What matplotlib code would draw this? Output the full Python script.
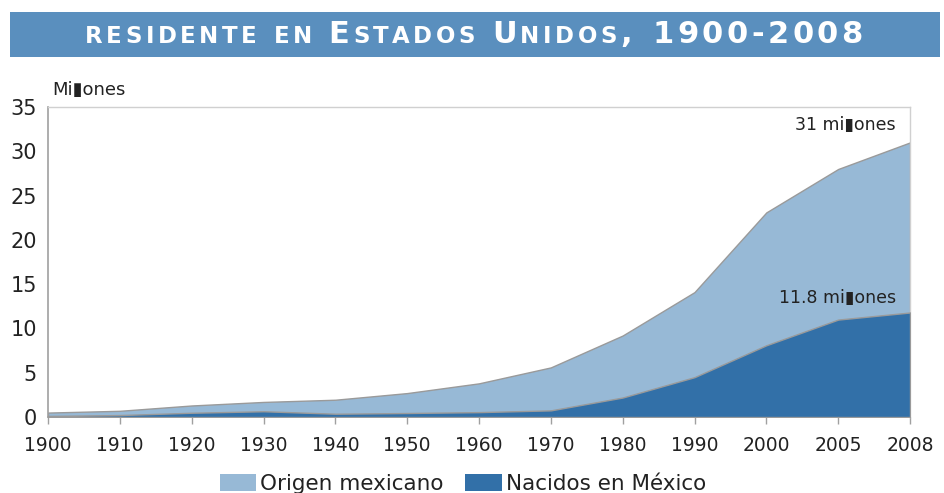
import matplotlib
matplotlib.use("Agg")
import matplotlib.pyplot as plt
from matplotlib.patches import Rectangle, Patch

# ── Data ──────────────────────────────────────────────────────────────────────
years = ["1900", "1910", "1920", "1930", "1940", "1950", "1960",
         "1970", "1980", "1990", "2000", "2005", "2008"]
origen_mexicano = [0.5, 0.7, 1.3, 1.7, 1.95, 2.7, 3.8, 5.6, 9.2, 14.1, 23.1, 28.0, 31.0]
nacidos_mexico = [0.12, 0.22, 0.48, 0.65, 0.37, 0.45, 0.55, 0.75, 2.2, 4.5, 8.1, 11.0, 11.8]
y_ticks = [0, 5, 10, 15, 20, 25, 30, 35]

# ── Colours ───────────────────────────────────────────────────────────────────
LIGHT = "#97B9D6"
DARK = "#3270A8"
BANNER = "#5A8FBE"
EDGE = "#9A9A9A"
TEXT = "#222222"

fig = plt.figure(figsize=(9.45, 4.93), dpi=100)
ax = fig.add_axes([48 / 945, 76 / 493, 862 / 945, 310 / 493])

x = list(range(len(years)))
ax.fill_between(x, 0, origen_mexicano, color=LIGHT, edgecolor=EDGE, linewidth=1.0,
                label="Origen mexicano", zorder=2)
ax.fill_between(x, 0, nacidos_mexico, color=DARK, edgecolor=EDGE, linewidth=1.0,
                label="Nacidos en México", zorder=3)

ax.set_xlim(0, len(years) - 1)
ax.set_ylim(0, 35)
ax.set_xticks(x)
ax.set_xticklabels(years)
ax.set_yticks(y_ticks)
ax.tick_params(axis="x", direction="out", length=5, width=1, color="#A0A0A0",
               labelsize=13.5, pad=9, labelcolor=TEXT)
ax.tick_params(axis="y", length=0, labelsize=15, pad=8, labelcolor=TEXT)
for side in ["left", "bottom"]:
    ax.spines[side].set_color("#A0A0A0")
    ax.spines[side].set_linewidth(1.2)
for side in ["top", "right"]:
    ax.spines[side].set_color("#D0D0D0")
    ax.spines[side].set_linewidth(1.0)

# annotations
ax.text(11.8, origen_mexicano[-1] + 1.0, "31 mi\u25aeones", ha="right", va="bottom",
        fontsize=12.5, color=TEXT, zorder=5)
ax.text(11.8, nacidos_mexico[-1] + 0.6, "11.8 mi\u25aeones", ha="right", va="bottom",
        fontsize=12.5, color=TEXT, zorder=5)

fig.text(52 / 945, 1 - 90 / 493, "Mi\u25aeones", ha="left", va="center",
         fontsize=13, color=TEXT)

# legend
handles = [Patch(facecolor=LIGHT, label="Origen mexicano"),
           Patch(facecolor=DARK, label="Nacidos en México")]
fig.legend(handles=handles, loc="center", bbox_to_anchor=(0.49, 1 - 484 / 493),
           ncol=2, frameon=False, fontsize=15.5, handlelength=1.7, handleheight=0.8,
           handletextpad=0.2, columnspacing=1.0, borderaxespad=0, labelcolor=TEXT)

# ── Title banner with tracked small caps ──────────────────────────────────────
fig.patches.append(Rectangle((10 / 945, 1 - 57 / 493), 930 / 945, 45 / 493,
                             transform=fig.transFigure, facecolor=BANNER,
                             edgecolor="none", zorder=0))

SMALL, BIG = 16.5, 22
title_parts = [("RESIDENTE EN ", SMALL), ("E", BIG), ("STADOS ", SMALL), ("U", BIG),
               ("NIDOS", SMALL), (", 1900-2008", BIG)]
TRACK = 3.5      # extra px between letters
renderer = fig.canvas.get_renderer()
chars = []
for s, size in title_parts:
    for ch in s:
        if ch == " ":
            chars.append((None, size * 0.6))
            continue
        t = fig.text(0, 1 - 43 / 493, ch, fontsize=size, color="white",
                     family="DejaVu Sans", weight="bold", ha="left", va="baseline")
        chars.append((t, t.get_window_extent(renderer).width))
total_w = sum(w for _, w in chars) + TRACK * (len(chars) - 1)
x0 = 474 - total_w / 2
for t, w in chars:
    if t is not None:
        t.set_x(x0 / 945)
    x0 += w + TRACK

fig.savefig("out.png", dpi=100)
